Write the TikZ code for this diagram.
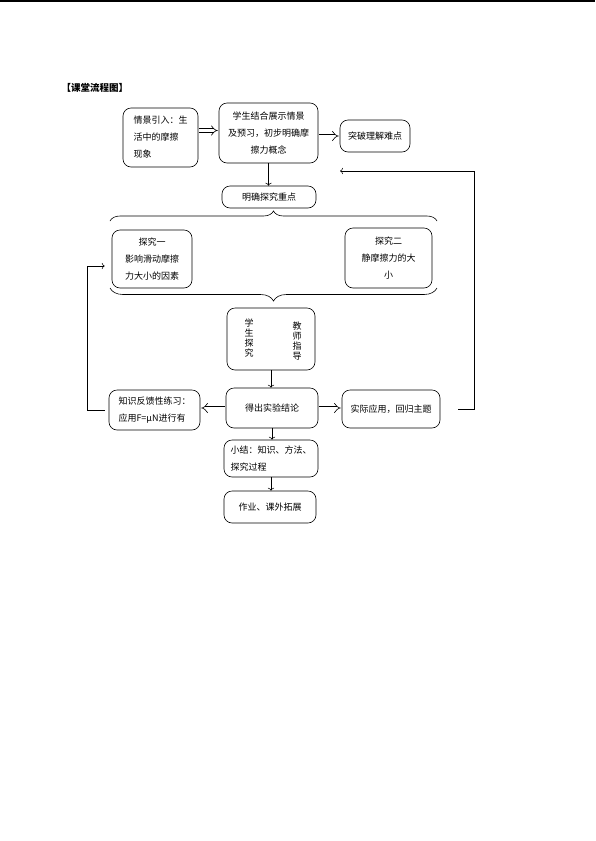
\documentclass[tikz,border=0pt]{standalone}
\usepackage{fontspec}
\newfontfamily\cjk{Noto Sans CJK SC}
\usetikzlibrary{arrows.meta,decorations.pathreplacing}
\tikzset{
  kuang/.style={draw, rounded corners=8pt, align=center, inner sep=2pt,
    font=\cjk\fontsize{9}{17}\selectfont},
  kong/.style={double, double distance=3pt, -{Implies}, shorten <=1pt, shorten >=1pt},
  kuohao/.style={decorate, decoration={brace, amplitude=#1}}
}
\begin{document}
\begin{tikzpicture}[x=1pt, y=-1pt, line width=0.6pt]
  \useasboundingbox (0,0) rectangle (595,841);
  \draw[line width=1.2pt] (0,1) -- (595,1);
  \node[anchor=west, font=\cjk\bfseries\fontsize{9.5}{12}\selectfont] (biaoti) at (58,88) {【课堂流程图】};

  \node[kuang, align=left, minimum width=75pt, minimum height=59pt] (qingjing) at (160.5,137.5)
    {情景引入：生\\活中的摩擦\\现象};
  \node[kuang, minimum width=99pt, minimum height=60pt] (jiehe) at (268.5,133)
    {学生结合展示情景\\及预习，初步明确摩\\擦力概念};
  \node[kuang, minimum width=70pt, minimum height=32pt] (tupo) at (375,136) {突破理解难点};
  \node[kuang, minimum width=94pt, minimum height=22pt] (mingque) at (269,197) {明确探究重点};

  \node[kuang, minimum width=80pt, minimum height=58pt] (tanjiu1) at (152,259)
    {探究一\\影响滑动摩擦\\力大小的因素};
  \node[kuang, minimum width=87pt, minimum height=60pt] (tanjiu2) at (388.5,258)
    {探究二\\静摩擦力的大\\小};
  \draw[kuohao=10pt] (110,221) -- (437,221);
  \draw[kuohao=13pt] (437,288) -- (110,288);

  \node[kuang, minimum width=88pt, minimum height=62pt] (xuesheng) at (271,339) {};
  \node[font=\cjk\fontsize{9}{10}\selectfont, align=center] (xs) at (249,338) {学\\生\\探\\究};
  \node[font=\cjk\fontsize{9}{10}\selectfont, align=center] (js) at (297,341) {教\\师\\指\\导};

  \node[kuang, minimum width=92pt, minimum height=40pt] (jielun) at (272,408) {得出实验结论};
  \node[kuang, align=left, minimum width=91pt, minimum height=40pt] (fankui) at (154.5,410)
    {知识反馈性练习：\\应用F=μN进行有};
  \node[kuang, minimum width=98pt, minimum height=38pt] (yingyong) at (391,409) {实际应用，回归主题};
  \node[kuang, align=left, minimum width=94pt, minimum height=37pt] (xiaojie) at (271,458.5)
    {小结：知识、方法、\\探究过程};
  \node[kuang, minimum width=92pt, minimum height=32pt] (zuoye) at (270,507) {作业、课外拓展};

  \coordinate (youjiao) at (474,171);
  \coordinate (fanhui) at (340,171);
  \coordinate (zuojiao) at (87,266);

  \draw[kong] ([yshift=7pt]qingjing.east) -- ([yshift=7pt]qingjing.east -| jiehe.west);
  \draw[kong] (tupo.west -| jiehe.east) -- (tupo.west);
  \draw[->] (jiehe.south) -- (jiehe.south |- mingque.north);
  \draw[->] (xuesheng.south) -- (xuesheng.south |- jielun.north);
  \draw[kong] (jielun.west) -- (jielun.west -| fankui.east);
  \draw[kong] (jielun.east) -- (jielun.east -| yingyong.west);
  \draw[->] (jielun.south) -- (jielun.south |- xiaojie.north);
  \draw[->] (xiaojie.south) -- (xiaojie.south |- zuoye.north);
  \draw[->, shorten <=18pt] (yingyong.east) -| (youjiao) -- (fanhui);
  \draw[->, shorten <=4pt, shorten >=7pt] (fankui.west) -| (zuojiao) -- (zuojiao -| tanjiu1.west);
\end{tikzpicture}
\end{document}
